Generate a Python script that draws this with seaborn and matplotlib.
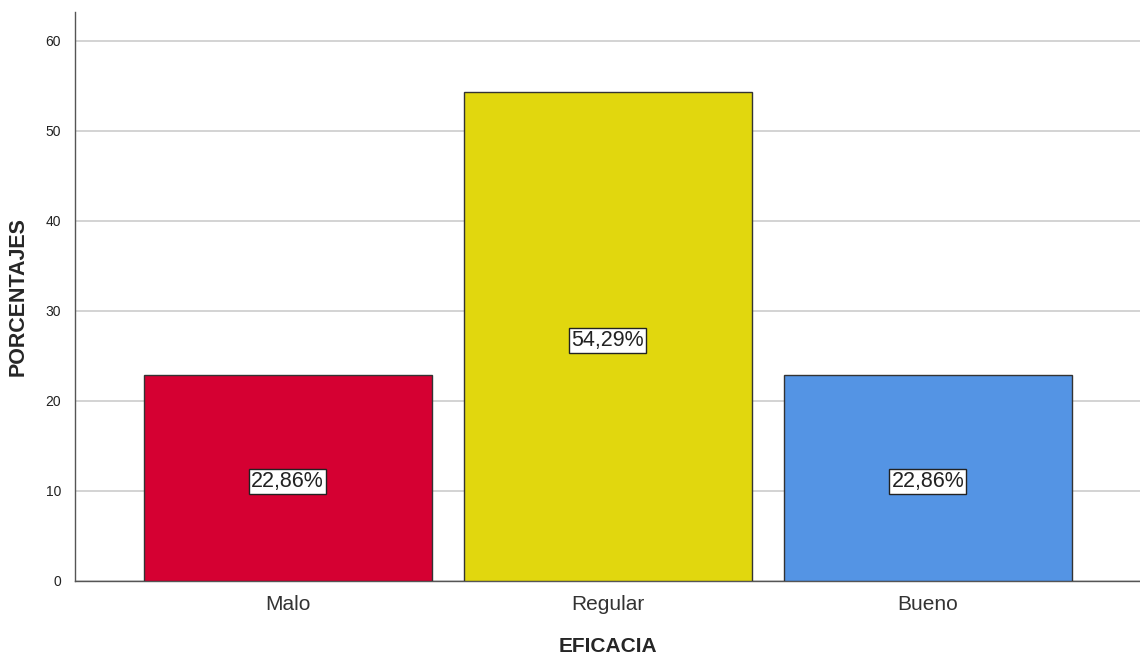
import pandas as pd
import matplotlib
matplotlib.use('Agg')
import matplotlib.pyplot as plt
import seaborn as sns

sns.set_style('white')
plt.rcParams['font.family'] = ['Liberation Sans', 'DejaVu Sans']

categorias = ['Malo', 'Regular', 'Bueno']
porcentajes = [22.86, 54.29, 22.86]
colores = ['#D50032', '#E1D70E', '#5494E4']

df = pd.DataFrame({'EFICACIA': categorias, 'PORCENTAJES': porcentajes})

fig = plt.figure(figsize=(11.4, 6.6), dpi=100)
ax = fig.add_axes([0.0658, 0.1197, 0.9342, 0.8621])

sns.barplot(data=df, x='EFICACIA', y='PORCENTAJES', hue='EFICACIA',
            palette=colores, saturation=1, width=0.9,
            edgecolor='#333333', linewidth=1.0,
            legend=False, ax=ax, zorder=3)

for bar, val in zip(ax.patches, porcentajes):
    ax.text(bar.get_x() + bar.get_width() / 2, val / 2 - 0.4,
            f'{val:.2f}%'.replace('.', ','), ha='center', va='center',
            fontsize=15.5, color='#222222', zorder=4,
            bbox=dict(boxstyle='square,pad=0.1', facecolor='white',
                      edgecolor='#222222', linewidth=1.0))

ax.set_ylim(0, 63.2)
ax.set_xlim(-0.664, 2.6625)
ax.set_yticks(range(0, 61, 10))
ax.yaxis.grid(True, color='#cccccc', linewidth=1.2, zorder=0)
ax.set_axisbelow(True)

for side in ['top', 'right']:
    ax.spines[side].set_visible(False)
for side in ['left', 'bottom']:
    ax.spines[side].set_color('#555555')
    ax.spines[side].set_linewidth(1.0)

ax.tick_params(axis='y', labelsize=10, length=0, pad=10, colors='#222222')
ax.tick_params(axis='x', labelsize=15, length=0, pad=10, colors='#333333')
ax.set_xlabel('EFICACIA', fontsize=15, fontweight='bold', labelpad=17)
ax.set_ylabel('PORCENTAJES', fontsize=15.5, fontweight='bold', labelpad=12)

plt.savefig('out.png', dpi=100)
